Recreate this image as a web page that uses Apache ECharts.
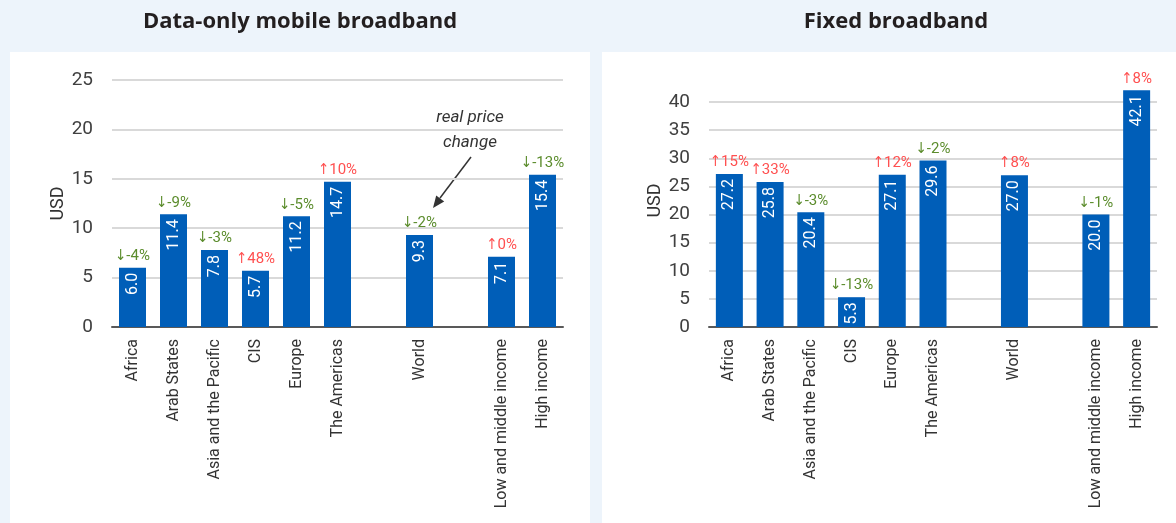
<!DOCTYPE html>
<html>
<head>
<meta charset="utf-8">
<script src="https://cdn.jsdelivr.net/npm/echarts@6/dist/echarts.min.js"></script>
<style>
html,body{margin:0;padding:0;background:#EDF4FB;}
#chart{width:1176px;height:523px;}
</style>
</head>
<body>
<div id="chart"></div>
<script>
// ---- data ----
const categories = ['Africa', 'Arab States', 'Asia and the Pacific', 'CIS', 'Europe', 'The Americas', ' ', 'World', '  ', 'Low and middle income', 'High income'];
const mobilePrice = [6.0, 11.4, 7.8, 5.7, 11.2, 14.7, null, 9.3, null, 7.1, 15.4];
const mobileChange = [-4, -9, -3, 48, -5, 10, null, -2, null, 0, -13];
const fixedPrice = [27.2, 25.8, 20.4, 5.3, 27.1, 29.6, null, 27.0, null, 20.0, 42.1];
const fixedChange = [15, 33, -3, -13, 12, -2, null, 8, null, -1, 8];
const titles = ['Data-only mobile broadband', 'Fixed broadband'];
const yName = 'USD';
const annotationLines = ['real price', 'change'];

const FONT = 'Roboto, "DejaVu Sans Condensed", sans-serif';
const BAR = '#005EB8';
const RED = '#FF5050';
const GREEN = '#5B8C2C';

const chart = echarts.init(document.getElementById('chart'), null, {renderer: 'canvas'});

function xAxis(gi) {
  return {
    type: 'category', gridIndex: gi, data: categories,
    axisTick: {show: false},
    axisLine: {lineStyle: {color: '#595959', width: 2}},
    axisLabel: {rotate: 90, interval: 0, margin: 12, color: '#333', fontFamily: FONT, fontSize: 16}
  };
}
function yAxis(gi, max) {
  return {
    type: 'value', gridIndex: gi, min: 0, max: max, interval: 5,
    name: yName, nameLocation: 'middle', nameGap: 45,
    nameTextStyle: {color: '#333', fontFamily: FONT, fontSize: 18},
    axisLine: {show: false}, axisTick: {show: false},
    axisLabel: {color: '#404040', fontFamily: FONT, fontSize: 19, margin: 19, showMaxLabel: max !== 45},
    splitLine: {lineStyle: {color: '#D9D9D9', width: 2}, showMaxLine: max !== 45}
  };
}
function valueSeries(gi, data) {
  return {
    type: 'bar', xAxisIndex: gi, yAxisIndex: gi, data: data,
    barWidth: 27, itemStyle: {color: BAR},
    label: {
      show: true, position: 'insideTop', rotate: 90, align: 'right', verticalAlign: 'middle',
      distance: 5, color: '#fff', fontFamily: FONT, fontSize: 16,
      formatter: p => (p.value == null ? '' : Number(p.value).toFixed(1))
    }
  };
}
function changeSeries(gi, data, changes) {
  return {
    type: 'bar', xAxisIndex: gi, yAxisIndex: gi, data: data,
    barWidth: 27, barGap: '-100%', itemStyle: {color: 'rgba(0,0,0,0)'}, silent: true,
    label: {
      show: true, position: 'top', distance: 4, fontFamily: FONT, fontSize: 15,
      formatter: p => {
        const c = changes[p.dataIndex];
        if (c == null) return '';
        return c >= 0 ? '{u|↑' + c + '%}' : '{d|↓' + c + '%}';
      },
      rich: {
        u: {color: RED, fontFamily: FONT, fontSize: 15},
        d: {color: GREEN, fontFamily: FONT, fontSize: 15}
      }
    }
  };
}

const option = {
  backgroundColor: '#EDF4FB',
  animation: false,
  grid: [
    {left: 112, top: 80, width: 451, height: 247, outerBoundsMode: 'none', containLabel: false},
    {left: 709, top: 74, width: 448, height: 253, outerBoundsMode: 'none', containLabel: false}
  ],
  xAxis: [xAxis(0), xAxis(1)],
  yAxis: [yAxis(0, 25), yAxis(1, 45)],
  series: [
    valueSeries(0, mobilePrice), changeSeries(0, mobilePrice, mobileChange),
    valueSeries(1, fixedPrice), changeSeries(1, fixedPrice, fixedChange)
  ],
  graphic: [
    {type: 'rect', z: -10, shape: {x: 10, y: 52, width: 580, height: 471}, style: {fill: '#fff'}},
    {type: 'rect', z: -10, shape: {x: 602, y: 52, width: 574, height: 471}, style: {fill: '#fff'}},
    {type: 'text', x: 300, y: 22, style: {text: titles[0], align: 'center', verticalAlign: 'middle', font: 'bold 22px "Open Sans", Lato, sans-serif', fill: '#231F20'}},
    {type: 'text', x: 896, y: 22, style: {text: titles[1], align: 'center', verticalAlign: 'middle', font: 'bold 22px "Open Sans", Lato, sans-serif', fill: '#231F20'}},
    {type: 'text', x: 470, y: 118, style: {text: annotationLines[0], align: 'center', verticalAlign: 'middle', font: 'italic 17px ' + FONT, fill: '#333'}},
    {type: 'text', x: 470, y: 143, style: {text: annotationLines[1], align: 'center', verticalAlign: 'middle', font: 'italic 17px ' + FONT, fill: '#333'}},
    {type: 'line', shape: {x1: 471, y1: 157, x2: 440, y2: 198}, style: {stroke: '#333', lineWidth: 1.5}},
    {type: 'polygon', shape: {points: [[433, 208], [444.2, 201.4], [436.2, 195.4]]}, style: {fill: '#333'}}
  ]
};
chart.setOption(option);
</script>
</body>
</html>
